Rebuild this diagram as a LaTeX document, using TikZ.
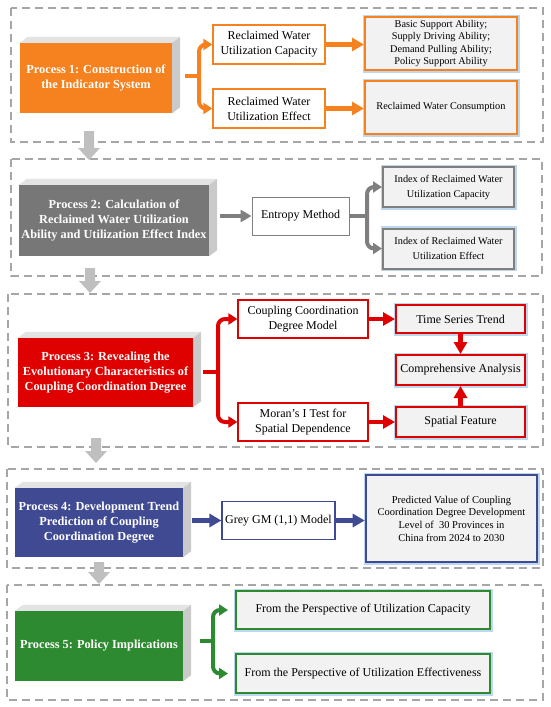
\documentclass[tikz,border=0pt]{standalone}
\usepackage{fontspec}
\setmainfont{Liberation Serif}
\usetikzlibrary{arrows.meta,calc}
\definecolor{orng}{HTML}{F5821F}
\definecolor{pgray}{HTML}{777777}
\definecolor{egray}{HTML}{7F7F7F}
\definecolor{pred}{HTML}{DF0000}
\definecolor{pnavy}{HTML}{3F4A93}
\definecolor{pgreen}{HTML}{2E8A30}
\definecolor{panelc}{HTML}{A6A6A6}
\definecolor{boxfill}{HTML}{F2F2F2}
\definecolor{glowc}{HTML}{BDD7EE}
\definecolor{toptone}{HTML}{E3E3E3}
\definecolor{sidetone}{HTML}{CACACA}
\definecolor{darrow}{HTML}{BFBFBF}
\newcommand\mkextrude[1]{%
 \fill[toptone] (#1.north west) -- ([shift={(8,-6)}]#1.north west) -- ([shift={(8,-6)}]#1.north east) -- (#1.north east) -- cycle;
 \fill[sidetone] (#1.north east) -- ([shift={(8,-6)}]#1.north east) -- ([shift={(8,-6)}]#1.south east) -- (#1.south east) -- cycle;}
\newcommand\dnarrow[3]{%
 \fill[darrow] (#1-5,#2) -- (#1+5,#2) -- (#1+5,#3-12) -- (#1+11,#3-12) -- (#1,#3) -- (#1-11,#3-12) -- (#1-5,#3-12) -- cycle;}
\begin{document}
\begin{tikzpicture}[x=1pt,y=-1pt,
 panel/.style={draw=panelc,line width=1.3pt,dash pattern=on 8pt off 5pt},
 proc/.style={fill=#1,text=white,font=\fontsize{12.3}{15}\selectfont\bfseries,align=center,inner sep=0pt},
 wbox/.style={draw=#1,fill=white,line width=1.3pt,align=center,inner sep=0pt,font=\fontsize{12}{15}\selectfont},
 gbox/.style={draw=#1,fill=boxfill,line width=2pt,preaction={draw=glowc,line width=5pt},align=center,inner sep=0pt},
 small/.style={font=\fontsize{10.3}{12.5}\selectfont},
 mid/.style={font=\fontsize{12}{15}\selectfont},
 brace/.style={line width=4pt,draw=#1,rounded corners=7pt,-{Triangle[length=9pt,width=11pt]}},
 stub/.style={line width=4pt,draw=#1},
 arr/.style={line width=4.5pt,draw=#1,-{Triangle[length=12pt,width=13pt]}}
]
\useasboundingbox (0,0) rectangle (550,707);
% panels
\draw[panel] (11,8) rectangle (543,142);
\draw[panel] (11,159) rectangle (542,276);
\draw[panel] (8,294) rectangle (543,447);
\draw[panel] (7,469) rectangle (543,568);
\draw[panel] (7,585) rectangle (543,700);
% down arrows
\dnarrow{89}{131}{160}
\dnarrow{90}{268}{293}
\dnarrow{96}{438}{463}
\dnarrow{99}{562}{584}

% ---------- Panel 1
\node[proc=orng,minimum width=152pt,minimum height=70pt] (P1) at (96,78) {Process 1: Construction of\\the Indicator System};
\mkextrude{P1}
\node[wbox=orng,minimum width=112pt,minimum height=39pt] (A1) at (269,44.5) {Reclaimed Water\\Utilization Capacity};
\node[wbox=orng,minimum width=112pt,minimum height=39pt] (A2) at (269,108.5) {Reclaimed Water\\Utilization Effect};
\node[gbox=orng,small,minimum width=152pt,minimum height=53pt] (B1) at (441,43.5) {Basic Support Ability;\\Supply Driving Ability;\\Demand Pulling Ability;\\Policy Support Ability};
\node[gbox=orng,small,minimum width=152pt,minimum height=53pt] (B2) at (441,107.5) {Reclaimed Water Consumption};
\coordinate (J1) at (199,76);
\draw[stub=orng] ([xshift=13pt]P1.east |- J1) -- (J1);
\draw[brace=orng] (J1) |- (A1.west);
\draw[brace=orng] (J1) |- (A2.west);
\draw[arr=orng] (A1.east) -- (B1.west |- A1.east);
\draw[arr=orng] (A2.east) -- (B2.west |- A2.east);

% ---------- Panel 2
\node[proc=pgray,minimum width=190pt,minimum height=71pt] (P2) at (114,220.5) {Process 2: Calculation of\\Reclaimed Water Utilization\\Ability and Utilization Effect Index};
\mkextrude{P2}
\node[wbox=egray,line width=1pt,minimum width=97pt,minimum height=38pt] (E) at (300.5,216) {Entropy Method};
\node[gbox=egray,small,font=\fontsize{10.3}{15}\selectfont,minimum width=131pt,minimum height=40pt] (I1) at (448.5,187) {Index of Reclaimed Water\\Utilization Capacity};
\node[gbox=egray,small,font=\fontsize{10.3}{15}\selectfont,minimum width=131pt,minimum height=40pt] (I2) at (448.5,248.5) {Index of Reclaimed Water\\Utilization Effect};
\draw[line width=4.5pt,draw=egray,-{Triangle[length=11pt,width=12pt]}] ([xshift=11pt]P2.east |- E.west) -- (E.west);
\coordinate (J2) at (367,216);
\draw[stub=egray] (E.east) -- (J2);
\draw[brace=egray] (J2) |- (I1.west);
\draw[brace=egray] (J2) |- (I2.west);

% ---------- Panel 3
\node[proc=pred,minimum width=175pt,minimum height=69pt] (P3) at (105.5,372.5) {Process 3: Revealing the\\Evolutionary Characteristics of\\Coupling Coordination Degree};
\mkextrude{P3}
\node[wbox=pred,minimum width=130pt,minimum height=38pt] (C1) at (303,319) {Coupling Coordination\\Degree Model};
\node[wbox=pred,minimum width=130pt,minimum height=38pt] (C2) at (303,422) {Moran’s I Test for\\Spatial Dependence};
\node[gbox=pred,mid,minimum width=129pt,minimum height=28pt] (T) at (460.5,319) {Time Series Trend};
\node[gbox=pred,mid,minimum width=129pt,minimum height=30pt] (CA) at (460.5,370) {Comprehensive Analysis};
\node[gbox=pred,mid,minimum width=129pt,minimum height=30pt] (SF) at (460.5,422) {Spatial Feature};
\coordinate (J3) at (218,372);
\draw[stub=pred] ([xshift=10pt]P3.east |- J3) -- (J3);
\draw[brace=pred] (J3) |- (C1.west);
\draw[brace=pred] (J3) |- (C2.west);
\draw[arr=pred] (C1.east) -- (T.west);
\draw[arr=pred] (C2.east) -- (SF.west);
\draw[arr=pred] (T.south) -- (CA.north);
\draw[arr=pred] (SF.north) -- (CA.south);

% ---------- Panel 4
\node[proc=pnavy,minimum width=168pt,minimum height=69pt] (P4) at (99,522.5) {Process 4: Development Trend\\Prediction of Coupling\\Coordination Degree};
\mkextrude{P4}
\node[wbox=pnavy,line width=1.2pt,minimum width=113pt,minimum height=38pt] (G) at (278.5,520.5) {Grey GM (1,1) Model};
\node[gbox=pnavy,line width=2.6pt,font=\fontsize{10.5}{12.7}\selectfont,minimum width=171pt,minimum height=87pt] (PV) at (451.5,518.5) {Predicted Value of Coupling\\Coordination Degree Development\\Level of~ 30 Provinces in\\China from 2024 to 2030};
\draw[arr=pnavy] ([xshift=9pt]P4.east |- G.west) -- (G.west);
\draw[arr=pnavy] (G.east) -- (PV.west |- G.east);

% ---------- Panel 5
\node[proc=pgreen,minimum width=168pt,minimum height=70pt] (P5) at (99,646) {Process 5: Policy Implications};
\mkextrude{P5}
\node[gbox=pgreen,mid,minimum width=254pt,minimum height=38pt] (F1) at (363,610) {From the Perspective of Utilization Capacity};
\node[gbox=pgreen,mid,minimum width=254pt,minimum height=39pt] (F2) at (363,673.5) {From the Perspective of Utilization Effectiveness};
\coordinate (J5) at (213,641);
\draw[stub=pgreen] ([xshift=17pt]P5.east |- J5) -- (J5);
\draw[brace=pgreen,shorten >=7pt] (J5) |- (F1.west);
\draw[brace=pgreen,shorten >=7pt] (J5) |- (F2.west);
\end{tikzpicture}
\end{document}
